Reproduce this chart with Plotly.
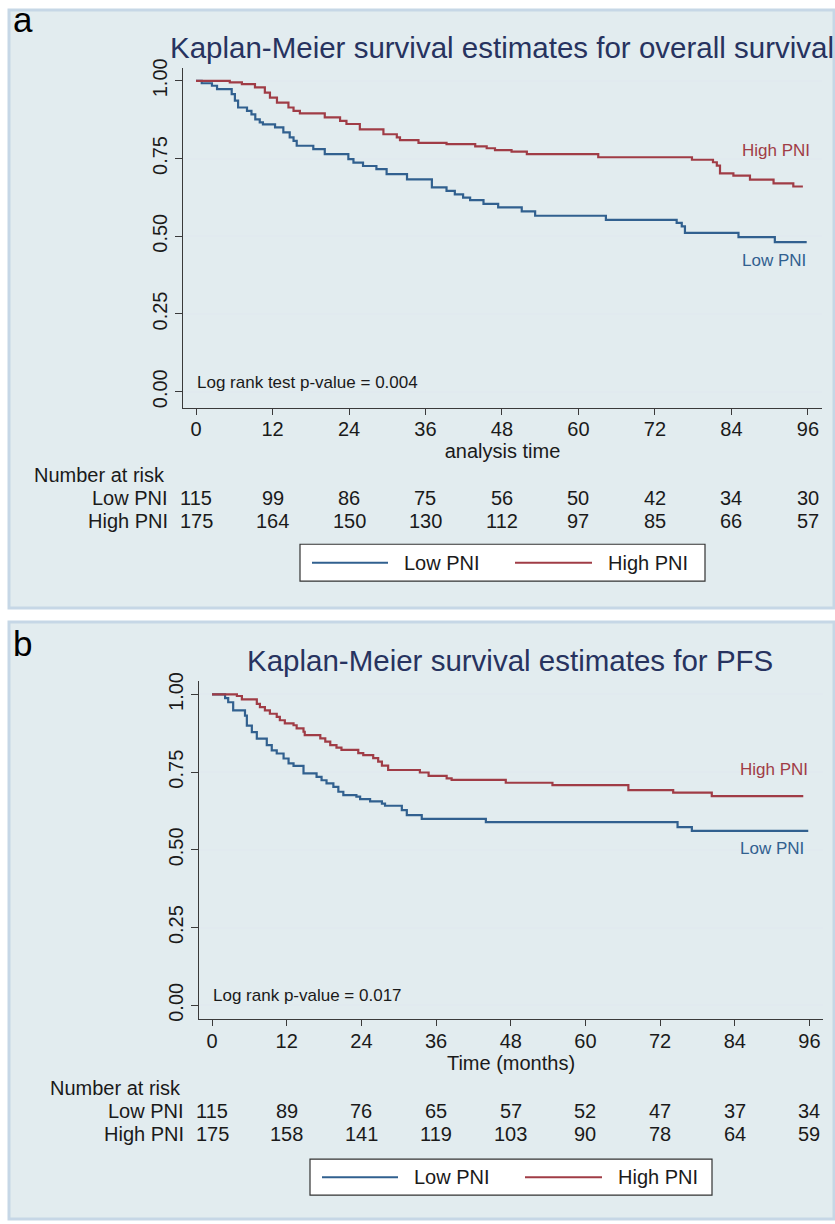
import plotly.graph_objects as go

W, H = 835, 1224

# ---------------- data ----------------
risk_times = [0, 12, 24, 36, 48, 60, 72, 84, 96]

os_low_t = [0, 0.9, 2.5, 3.3, 5.6, 6.1, 6.6, 8.0, 8.7, 9.3, 10.0, 10.5, 12.4, 13.7, 14.7, 15.3, 15.8, 18.4, 20.2, 23.9,
            24.7, 26.2, 28.3, 29.9, 33.1, 37.0, 39.3, 40.6, 41.9, 43.0, 45.1, 47.4, 51.1, 53.2, 64.3, 75.4, 76.2, 76.7,
            85.1, 90.8, 95.8]
os_low_s = [1.0, 0.992, 0.984, 0.973, 0.957, 0.936, 0.914, 0.903, 0.892, 0.876, 0.866, 0.86, 0.85, 0.834, 0.818, 0.807,
            0.791, 0.78, 0.764, 0.748, 0.737, 0.726, 0.716, 0.70, 0.683, 0.657, 0.646, 0.635, 0.624, 0.616, 0.604, 0.593,
            0.58, 0.566, 0.553, 0.543, 0.532, 0.511, 0.497, 0.481, 0.481]

os_high_t = [0, 5.3, 7.2, 9.25, 10.8, 11.6, 12.7, 14.5, 15.3, 16.3, 20.2, 22.6, 23.6, 25.7, 29.4, 31.5, 32.0, 34.9, 39.3,
             43.8, 45.6, 46.9, 49.5, 51.9, 63.1, 77.8, 81.1, 81.7, 82.2, 84.3, 86.9, 90.6, 93.7, 95.2]
os_high_s = [1.0, 0.995, 0.989, 0.979, 0.962, 0.946, 0.93, 0.914, 0.903, 0.895, 0.882, 0.871, 0.861, 0.844, 0.828, 0.818,
             0.809, 0.80, 0.796, 0.789, 0.783, 0.777, 0.772, 0.764, 0.754, 0.746, 0.738, 0.727, 0.702, 0.695, 0.682,
             0.67, 0.66, 0.66]

pfs_low_t = [0, 2.1, 2.6, 3.4, 5.3, 5.6, 6.4, 7.2, 8.8, 9.6, 10.4, 11.5, 12.3, 13.1, 14.7, 16.8, 17.6, 18.4, 19.5, 20.3,
             21.1, 23.2, 23.8, 25.4, 27.3, 27.8, 30.5, 31.3, 33.7, 44.0, 74.8, 77.1, 95.8]
pfs_low_s = [1.0, 0.988, 0.975, 0.949, 0.932, 0.90, 0.879, 0.858, 0.837, 0.82, 0.81, 0.794, 0.778, 0.77, 0.746, 0.735,
             0.724, 0.714, 0.703, 0.687, 0.676, 0.671, 0.663, 0.656, 0.649, 0.642, 0.628, 0.612, 0.60, 0.589, 0.573,
             0.561, 0.561]

pfs_high_t = [0, 4.0, 4.8, 7.2, 7.7, 8.5, 9.3, 10.4, 10.9, 11.7, 13.1, 13.6, 14.7, 14.9, 17.4, 18.2, 19.0, 20.0, 20.8,
              23.5, 24.3, 25.9, 26.7, 27.3, 28.3, 33.4, 34.8, 37.7, 38.5, 47.2, 54.7, 66.9, 74.1, 80.3, 95.0]
pfs_high_s = [1.0, 0.995, 0.984, 0.97, 0.959, 0.949, 0.938, 0.928, 0.917, 0.907, 0.901, 0.891, 0.88, 0.869, 0.859,
              0.848, 0.837, 0.829, 0.822, 0.811, 0.805, 0.795, 0.784, 0.771, 0.757, 0.749, 0.738, 0.73, 0.725, 0.716,
              0.708, 0.692, 0.684, 0.673, 0.673]

os_risk_low = [115, 99, 86, 75, 56, 50, 42, 34, 30]
os_risk_high = [175, 164, 150, 130, 112, 97, 85, 66, 57]
pfs_risk_low = [115, 89, 76, 65, 57, 52, 47, 37, 34]
pfs_risk_high = [175, 158, 141, 119, 103, 90, 78, 64, 59]

group_names = ["Low PNI", "High PNI"]
y_ticks = [0, 0.25, 0.5, 0.75, 1.0]
y_ticktext = ["0.00", "0.25", "0.50", "0.75", "1.00"]

# ---------------- styling ----------------
FONT = "Liberation Sans, Arial, Helvetica, sans-serif"
BLUE = "#31608f"
RED = "#a03c46"
TITLE_C = "#27335f"
TXT = "#1a1a1a"
PANEL_BG = "#e2ecef"
PANEL_LINE = "#c6d7e6"
GRID = "#e1eaef"
AXIS = "#3a3a3a"

TOP = 8  # observed top offset of the drawing area in the rendered page


def px(xp):
    return xp / W


def py(yp):
    return 1 - (yp - TOP) / (H - TOP)


fig = go.Figure()

# curves
fig.add_trace(go.Scatter(x=os_low_t, y=os_low_s, mode="lines", line=dict(color=BLUE, width=2.2, shape="hv"),
                         name="Low PNI", xaxis="x", yaxis="y", showlegend=False))
fig.add_trace(go.Scatter(x=os_high_t, y=os_high_s, mode="lines", line=dict(color=RED, width=2.2, shape="hv"),
                         name="High PNI", xaxis="x", yaxis="y", showlegend=False))
fig.add_trace(go.Scatter(x=pfs_low_t, y=pfs_low_s, mode="lines", line=dict(color=BLUE, width=2.2, shape="hv"),
                         name="Low PNI", xaxis="x2", yaxis="y2", showlegend=False))
fig.add_trace(go.Scatter(x=pfs_high_t, y=pfs_high_s, mode="lines", line=dict(color=RED, width=2.2, shape="hv"),
                         name="High PNI", xaxis="x2", yaxis="y2", showlegend=False))

common_x = dict(tickvals=risk_times, ticks="outside", ticklen=6, tickcolor=AXIS, showline=True, linecolor=AXIS,
                linewidth=1.2, showgrid=False, zeroline=False, tickfont=dict(size=20, color=TXT, family=FONT),
                title_font=dict(size=20, color=TXT, family=FONT))
common_y = dict(tickvals=y_ticks, ticktext=y_ticktext, tickangle=-90, ticks="outside", ticklen=7, tickcolor=AXIS,
                showline=True, linecolor=AXIS, linewidth=1.2, showgrid=True, gridcolor=GRID, gridwidth=1.5,
                zeroline=False, tickfont=dict(size=20, color=TXT, family=FONT))

fig.update_layout(
    width=W, height=H, margin=dict(l=0, r=0, t=0, b=0),
    paper_bgcolor="white", plot_bgcolor="white",
    font=dict(family=FONT, color=TXT),
    xaxis=dict(domain=[px(183), px(822)], anchor="y", range=[-2.04, 98.2], ticklabelstandoff=-3,
               title=dict(text="analysis time", standoff=3), **common_x),
    yaxis=dict(domain=[py(408), py(67)], anchor="x", range=[-0.0513, 1.0417], **common_y),
    xaxis2=dict(domain=[px(199), px(823)], anchor="y2", range=[-2.09, 98.17], ticklabelstandoff=-2,
                title=dict(text="Time (months)", standoff=5), **common_x),
    yaxis2=dict(domain=[py(1021), py(682)], anchor="x2", range=[-0.043, 1.044], **common_y),
)

shapes = []
# panel backgrounds
for (y0, y1) in [(9, 609), (623, 1222)]:
    shapes.append(dict(type="rect", xref="paper", yref="paper", x0=px(9), x1=px(834), y0=py(y1), y1=py(y0),
                       fillcolor=PANEL_BG, line=dict(color=PANEL_LINE, width=3), layer="below"))

annotations = []


def add_text(x, y, text, size=20, color=TXT, xanchor="left", xref="paper"):
    annotations.append(dict(x=x, y=y, xref=xref, yref="paper", text=text, showarrow=False,
                            font=dict(size=size, color=color, family=FONT), xanchor=xanchor, yanchor="middle"))


panels = [
    dict(letter="a", letter_y=19, title="Kaplan-Meier survival estimates for overall survival", title_x=502, title_y=47,
         xref="x", nar_x=32, nar_y=476, row_right=170, row_y=[499, 522], risks=[os_risk_low, os_risk_high],
         legend=(300, 705, 545, 582), lab_x=740, lab_high_y=150, lab_low_y=260,
         logrank="Log rank test p-value = 0.004", lr_x=195, lr_y=383),
    dict(letter="b", letter_y=645, title="Kaplan-Meier survival estimates for PFS", title_x=510, title_y=662,
         xref="x2", nar_x=48, nar_y=1091, row_right=186, row_y=[1114, 1137], risks=[pfs_risk_low, pfs_risk_high],
         legend=(310, 712, 1162, 1198), lab_x=738, lab_high_y=771, lab_low_y=850,
         logrank="Log rank p-value = 0.017", lr_x=211, lr_y=998),
]

for p in panels:
    add_text(px(11), py(p["letter_y"]), p["letter"], size=35, color="black")
    add_text(px(p["title_x"]), py(p["title_y"]), p["title"], size=29.5, color=TITLE_C, xanchor="center")
    add_text(px(p["nar_x"]), py(p["nar_y"]), "Number at risk", size=20)
    for gi, gname in enumerate(group_names):
        add_text(px(p["row_right"]), py(p["row_y"][gi]), gname, size=20, xanchor="right")
        for t, n in zip(risk_times, p["risks"][gi]):
            add_text(t, py(p["row_y"][gi]), str(n), size=20, xanchor="center", xref=p["xref"])
    # in-plot labels
    add_text(px(p["lab_x"]), py(p["lab_high_y"]), "High PNI", size=17, color=RED)
    add_text(px(p["lab_x"]), py(p["lab_low_y"]), "Low PNI", size=17, color=BLUE)
    add_text(px(p["lr_x"]), py(p["lr_y"]), p["logrank"], size=17)
    # legend box
    lx0, lx1, ly0, ly1 = p["legend"]
    shapes.append(dict(type="rect", xref="paper", yref="paper", x0=px(lx0), x1=px(lx1), y0=py(ly1), y1=py(ly0),
                       fillcolor="white", line=dict(color="#333333", width=1.2)))
    ym = (ly0 + ly1) / 2
    shapes.append(dict(type="line", xref="paper", yref="paper", x0=px(lx0 + 12), x1=px(lx0 + 88), y0=py(ym), y1=py(ym),
                       line=dict(color=BLUE, width=2)))
    shapes.append(dict(type="line", xref="paper", yref="paper", x0=px(lx0 + 215), x1=px(lx0 + 292), y0=py(ym),
                       y1=py(ym), line=dict(color=RED, width=2)))
    add_text(px(lx0 + 102), py(ym), group_names[0], size=20)
    add_text(px(lx0 + 306), py(ym), group_names[1], size=20)

fig.update_layout(shapes=shapes, annotations=annotations)
fig.write_html(
    "out.html",
    config={"displayModeBar": False},
    post_script=("document.documentElement.style.margin='0';document.body.style.margin='0';"
                 "document.body.style.overflow='hidden';"
                 "var d=document.getElementById('{plot_id}');"
                 "d.style.position='fixed';d.style.top='0px';d.style.left='0px';"),
)
